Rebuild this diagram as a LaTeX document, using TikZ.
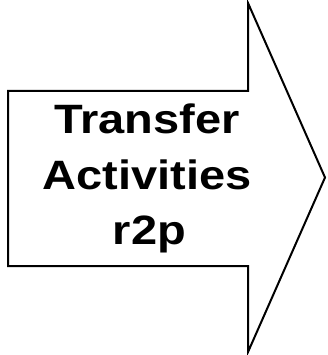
\documentclass[tikz,border=0pt]{standalone}
\usepackage{fontspec}
\usepackage{graphicx}
\setmainfont{Liberation Sans}
\begin{document}
\begin{tikzpicture}[x=1pt,y=-1pt,
  arrowshape/.style={draw=black,line width=2pt,fill=white,line join=miter},
  label/.style={font=\bfseries\fontsize{41}{48}\selectfont,inner sep=0pt,anchor=base}]
\useasboundingbox (0,0) rectangle (327,355);
\path[arrowshape] (8,91) -- (248,91) -- (248,3) -- (325,177.5) -- (248,352) -- (248,266) -- (8,266) -- cycle;
\node[label] (t1) at (147,134) {\scalebox{1.146}[1]{Transfer}};
\node[label] (t2) at (147,189) {\scalebox{1.146}[1]{Activities}};
\node[label] (t3) at (149.5,244) {\scalebox{1.146}[1]{r2p}};
\end{tikzpicture}
\end{document}
